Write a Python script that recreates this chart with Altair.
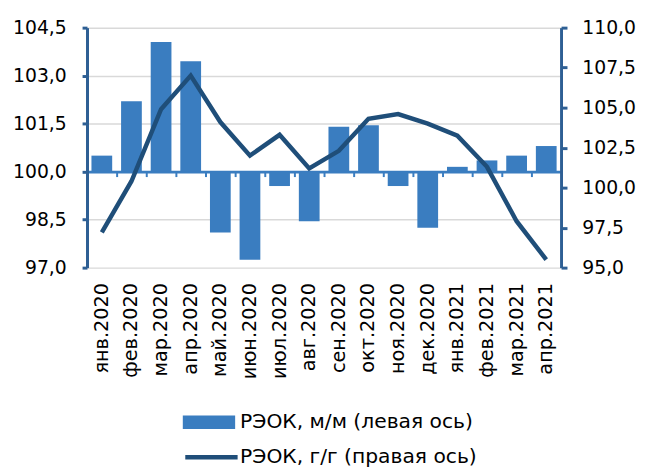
import altair as alt
import pandas as pd

months = ["янв.2020", "фев.2020", "мар.2020", "апр.2020", "май.2020", "июн.2020",
          "июл.2020", "авг.2020", "сен.2020", "окт.2020", "ноя.2020", "дек.2020",
          "янв.2021", "фев.2021", "мар.2021", "апр.2021"]
mm = [100.5, 102.2, 104.05, 103.45, 98.1, 97.25, 99.55, 98.45,
      101.4, 101.45, 99.55, 98.25, 100.15, 100.35, 100.5, 100.8]
yy = [97.2, 100.4, 104.9, 107.0, 104.1, 102.0, 103.3, 101.2,
      102.3, 104.3, 104.6, 104.0, 103.25, 101.3, 97.9, 95.5]

bar_label = "РЭОК, м/м (левая ось)"
line_label = "РЭОК, г/г (правая ось)"

left_domain = [97, 104.5]
left_ticks = [97, 98.5, 100, 101.5, 103, 104.5]
right_domain = [95, 110]
right_ticks = [95, 97.5, 100, 102.5, 105, 107.5, 110]

df = pd.DataFrame({"month": months, "mm": mm, "yy": yy})
df["s_bar"] = bar_label
df["s_line"] = line_label

FONT = "DejaVu Sans"
FS = 19
XFS = 19.5
LFS = 20.5
AX = "#2e5f94"
BAR = "#3a7dc0"
LINE = "#1f4e79"
W, H = 480, 243

label_expr = "replace(format(datum.value, '.1f'), '.', ',')"
xscale = alt.Scale(paddingInner=0.3, paddingOuter=0.15)

x_labels = alt.X("month:N", sort=months, scale=xscale, title=None,
                 axis=alt.Axis(orient="bottom", labelAngle=-90, labelFont=FONT,
                               labelFontSize=XFS, labelColor="#000", labelPadding=15,
                               domain=False, ticks=False, grid=False))
x_zero = alt.X("month:N", sort=months, scale=xscale, title=None,
               axis=alt.Axis(orient="bottom", offset=-(H * (100 - left_domain[0]) / (left_domain[1] - left_domain[0])),
                             labels=False, domain=True, domainColor=BAR, domainWidth=3,
                             ticks=True, tickColor=BAR, tickWidth=2, tickSize=5,
                             bandPosition=0, tickOffset=-4.5, grid=False))

bars = alt.Chart(df).mark_bar().encode(
    x=x_labels,
    y=alt.Y("mm:Q", scale=alt.Scale(domain=left_domain, nice=False, zero=False), title=None,
            axis=alt.Axis(orient="left", values=left_ticks, labelExpr=label_expr,
                          labelFont=FONT, labelFontSize=FS, labelColor="#000", labelPadding=16,
                          domainColor=AX, domainWidth=3, tickColor=AX, tickWidth=3, tickSize=5,
                          grid=True, gridColor="#d9d9d9", gridWidth=1.5)),
    y2=alt.Y2Datum(100),
    fill=alt.Fill("s_bar:N", scale=alt.Scale(domain=[bar_label], range=[BAR]),
                  legend=alt.Legend(title=None, orient="none", legendX=97, legendY=373,
                                    symbolType="M-1,-0.26H1V0.26H-1Z", symbolSize=2809,
                                    symbolStrokeWidth=0, labelFont=FONT, labelFontSize=LFS,
                                    labelColor="#000", labelOffset=5, labelLimit=500, padding=0)),
)

line = alt.Chart(df).mark_line(strokeWidth=4.5).encode(
    x=x_zero,
    y=alt.Y("yy:Q", scale=alt.Scale(domain=right_domain, nice=False, zero=False), title=None,
            axis=alt.Axis(orient="right", values=right_ticks, labelExpr=label_expr,
                          labelFont=FONT, labelFontSize=FS, labelColor="#000", labelPadding=15,
                          domainColor=AX, domainWidth=3, tickColor=AX, tickWidth=3, tickSize=6,
                          grid=False)),
    stroke=alt.Stroke("s_line:N", scale=alt.Scale(domain=[line_label], range=[LINE]),
                      legend=alt.Legend(title=None, orient="none", legendX=97, legendY=406,
                                        symbolType="stroke", symbolSize=2809,
                                        symbolStrokeWidth=4.5, labelFont=FONT, labelFontSize=LFS,
                                        labelColor="#000", labelOffset=0, labelLimit=500, padding=0)),
)

chart = alt.layer(bars, line).resolve_scale(y="independent").resolve_axis(x="independent").properties(
    width=W, height=H,
    padding={"left": 80, "top": 17, "right": 85, "bottom": 200},
    autosize=alt.AutoSizeParams(type="none"),
).configure_view(stroke=None)

chart.save("out.html", embed_options={"renderer": "svg", "actions": False})
